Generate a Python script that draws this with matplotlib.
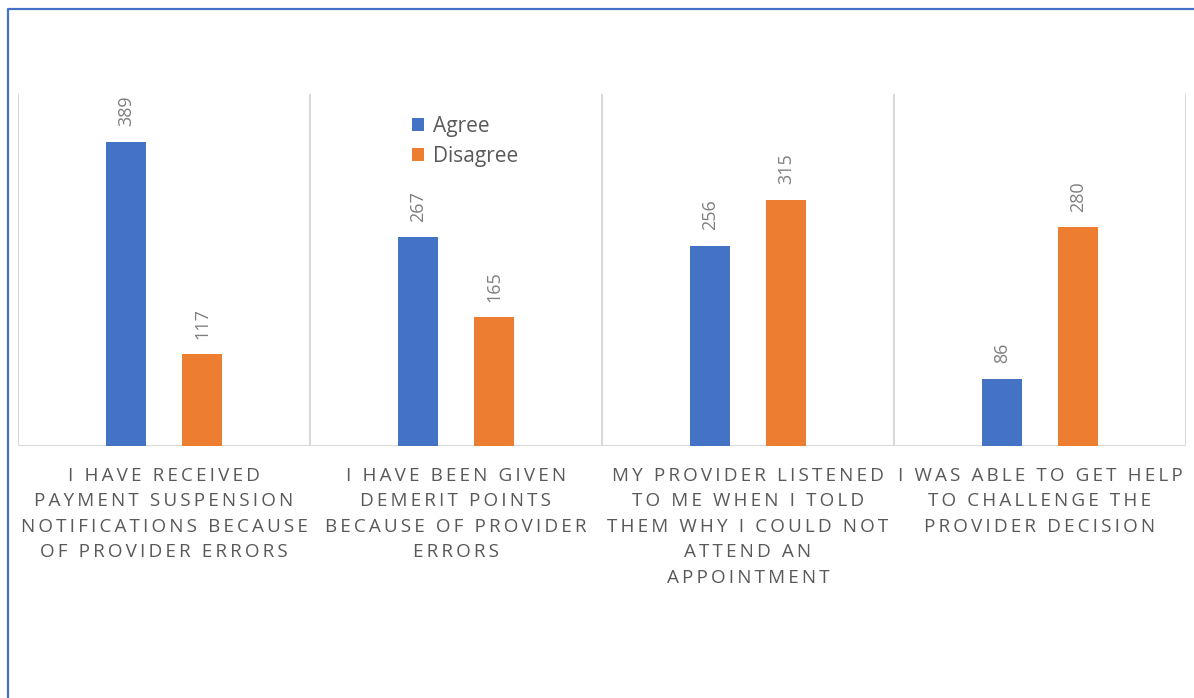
import matplotlib
matplotlib.use("Agg")
import matplotlib.pyplot as plt
from matplotlib.lines import Line2D
from matplotlib.patches import Patch
import matplotlib.transforms as mtransforms

# Survey statements (shown in capitals under each group)
categories = [
    "I HAVE RECEIVED\nPAYMENT SUSPENSION\nNOTIFICATIONS BECAUSE\nOF PROVIDER ERRORS",
    "I HAVE BEEN GIVEN\nDEMERIT POINTS\nBECAUSE OF PROVIDER\nERRORS",
    "MY PROVIDER LISTENED\nTO ME WHEN I TOLD\nTHEM WHY I COULD NOT\nATTEND AN\nAPPOINTMENT",
    "I WAS ABLE TO GET HELP\nTO CHALLENGE THE\nPROVIDER DECISION",
]
series_names = ["Agree", "Disagree"]
agree = [389, 267, 256, 86]
disagree = [117, 165, 315, 280]

BLUE = "#4472C4"
ORANGE = "#ED7D31"
GRID = "#D9D9D9"
TEXT = "#595959"
LABEL = "#7F7F7F"
FONTS = ["Open Sans", "DejaVu Sans"]


def tracked(s, gap="\u2009"):
    """Letter-spaced version of a multi-line label."""
    return "\n".join(gap.join(line) for line in s.split("\n"))


W, H = 1194, 698
fig = plt.figure(figsize=(W / 100, H / 100), dpi=100)
fig.patch.set_facecolor("white")

ax = fig.add_axes([18 / W, 1 - 446 / H, 1168 / W, 352 / H])
ax.set_xlim(-0.5, len(categories) - 0.5)
ax.set_ylim(0, 450)

bw = 0.137
off = 0.13
xs = list(range(len(categories)))
b1 = ax.bar([x - off for x in xs], agree, width=bw, color=BLUE, zorder=3)
b2 = ax.bar([x + off for x in xs], disagree, width=bw, color=ORANGE, zorder=3)

for bars, vals in ((b1, agree), (b2, disagree)):
    for rect, v in zip(bars, vals):
        ax.annotate(str(v), (rect.get_x() + rect.get_width() / 2, v),
                    xytext=(0, 11), textcoords="offset points",
                    rotation=90, ha="center", va="bottom",
                    fontsize=13, color=LABEL, family=FONTS)

# category separators and baseline
for b in [x - 0.5 for x in xs] + [xs[-1] + 0.5]:
    ax.axvline(b, color=GRID, lw=1.5, zorder=1)
ax.axhline(0, color=GRID, lw=1.5, zorder=2)

for s in ax.spines.values():
    s.set_visible(False)
ax.set_xticks([])
ax.set_yticks([])

# category labels below the axis
trans = mtransforms.blended_transform_factory(ax.transData, fig.transFigure)
for x, lab in zip(xs, categories):
    ax.text(x, 1 - 467 / H, tracked(lab), transform=trans, ha="center",
            va="top", multialignment="center", fontsize=13.6, color=TEXT,
            family=FONTS, linespacing=1.53)

handles = [Patch(facecolor=BLUE), Patch(facecolor=ORANGE)]
fig.legend(handles, series_names, loc="upper left",
           bbox_to_anchor=(412 / W, 1 - 116 / H), frameon=False,
           borderpad=0, borderaxespad=0, handlelength=0.58,
           handleheight=0.58, handletextpad=0.45, labelspacing=0.41,
           prop={"family": FONTS, "size": 15}, labelcolor=TEXT)

# outer frame (left and top edges)
fig.add_artist(Line2D([7.5 / W, 7.5 / W, 1], [0, 1 - 9 / H, 1 - 9 / H],
                      transform=fig.transFigure, color=BLUE, lw=1.6))

fig.savefig("out.png", dpi=100, facecolor="white")
